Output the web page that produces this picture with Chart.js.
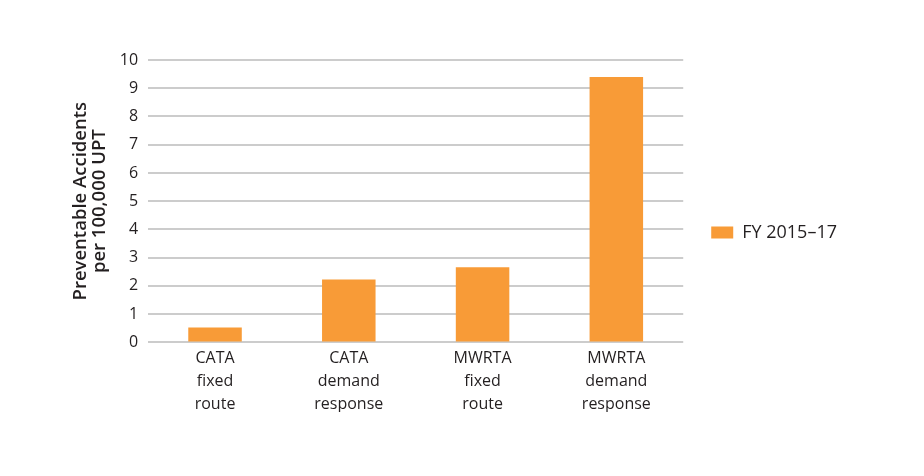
<!DOCTYPE html>
<html>
<head>
<meta charset="utf-8">
<script src="https://cdn.jsdelivr.net/npm/chart.js@4"></script>
<style>
  html, body { margin: 0; padding: 0; background: #ffffff; }
  #grafico { display: block; }
</style>
</head>
<body>
<canvas id="grafico" width="924" height="476"></canvas>
<script>
// Datos del grafico
var categorias = [
    ['CATA', 'fixed', 'route'],
    ['CATA', 'demand', 'response'],
    ['MWRTA', 'fixed', 'route'],
    ['MWRTA', 'demand', 'response']
];
var serieNombre = 'FY 2015\u201317';
var serieValores = [0.53, 2.23, 2.66, 9.40];
var tituloEjeY = ['Preventable Accidents', 'per 100,000 UPT'];
var ejeYMin = 0;
var ejeYMax = 10;
var ejeYPaso = 1;

var fuente = "'Open Sans', 'Noto Sans', sans-serif";
var colorTexto = '#231f20';

var ctx = document.getElementById('grafico').getContext('2d');

var myChart = new Chart(ctx, {
    type: 'bar',
    data: {
        labels: categorias,
        datasets: [{
            label: serieNombre,
            data: serieValores,
            backgroundColor: '#f89b37',
            borderWidth: 0,
            categoryPercentage: 1,
            barPercentage: 0.4
        }]
    },
    options: {
        responsive: false,
        animation: false,
        layout: {
            padding: { top: 60, right: 77, bottom: 64, left: 71 }
        },
        plugins: {
            legend: {
                position: 'right',
                fullSize: false,
                // titulo vacio para bajar la leyenda
                title: {
                    display: true,
                    text: '',
                    padding: { top: 48, bottom: 0 }
                },
                labels: {
                    boxWidth: 22,
                    boxHeight: 12,
                    padding: 28,
                    color: colorTexto,
                    font: { family: fuente, size: 18 }
                }
            },
            tooltip: { enabled: false }
        },
        scales: {
            x: {
                grid: { display: false },
                border: { display: false },
                ticks: {
                    color: colorTexto,
                    padding: -4,
                    maxRotation: 0,
                    font: { family: fuente, size: 16, lineHeight: 1.45 }
                }
            },
            y: {
                min: ejeYMin,
                max: ejeYMax,
                grid: {
                    color: '#cccccc',
                    lineWidth: 2,
                    drawTicks: false
                },
                border: { display: false },
                ticks: {
                    stepSize: ejeYPaso,
                    color: colorTexto,
                    padding: 10,
                    font: { family: fuente, size: 16 }
                },
                title: {
                    display: true,
                    text: tituloEjeY,
                    color: colorTexto,
                    padding: { top: 0, bottom: 0 },
                    font: { family: fuente, size: 18.5, weight: '600', lineHeight: 1.05 }
                }
            }
        }
    }
});
</script>
</body>
</html>
